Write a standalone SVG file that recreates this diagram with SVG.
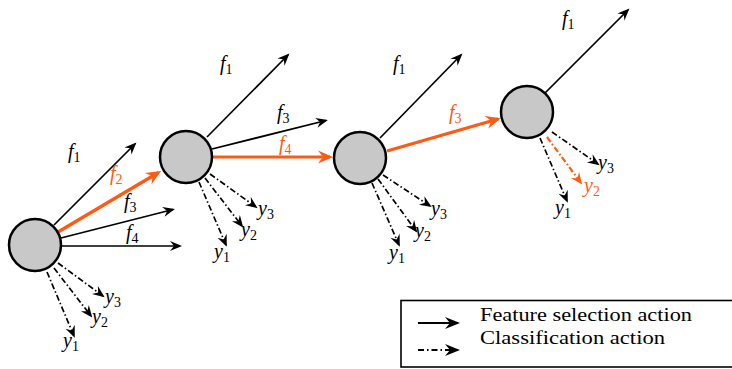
<svg xmlns="http://www.w3.org/2000/svg" width="732" height="369" viewBox="0 0 732 369">
<style>
.bg{fill:#ffffff}
.node{fill:#c8c8c8;stroke:#000;stroke-width:2.5}
.fs{stroke:#000;stroke-width:1.7;fill:none;marker-end:url(#ah)}
.cl{stroke:#000;stroke-width:1.7;fill:none;stroke-dasharray:6 2.5 1.5 2.5;marker-end:url(#ah)}
.fso{stroke:#ff5a14;stroke-width:3.2;fill:none;marker-end:url(#aho)}
.clo{stroke:#ff5a14;stroke-width:2.2;fill:none;stroke-dasharray:6 2.5 1.5 2.5;marker-end:url(#ahs)}
.lb{font-family:"Liberation Serif","DejaVu Serif",serif;font-style:italic;font-size:20px;fill:#000}
.lbo{font-family:"Liberation Serif","DejaVu Serif",serif;font-style:italic;font-size:20px;fill:#ff5a14}
.sub{font-style:normal;font-size:14px}
.lg{font-family:"Liberation Serif","DejaVu Serif",serif;font-size:18px;fill:#000}
</style>
<defs>
<marker id="ah" viewBox="-13 -6 14 12" refX="-2" refY="0" markerWidth="14" markerHeight="12" orient="auto" markerUnits="userSpaceOnUse"><path d="M0,0 L-12,-5 L-8,0 L-12,5Z" fill="#000"/></marker>
<marker id="ahl" viewBox="-16 -7 17 14" refX="-2" refY="0" markerWidth="17" markerHeight="14" orient="auto" markerUnits="userSpaceOnUse"><path d="M0,0 L-15,-6 L-10,0 L-15,6Z" fill="#000"/></marker>
<marker id="aho" viewBox="-17 -7 18 14" refX="-3" refY="0" markerWidth="18" markerHeight="14" orient="auto" markerUnits="userSpaceOnUse"><path d="M0,0 L-15,-6.5 L-10,0 L-15,6.5Z" fill="#ff5a14"/></marker>
<marker id="ahs" viewBox="-14 -6 15 12" refX="-2" refY="0" markerWidth="15" markerHeight="12" orient="auto" markerUnits="userSpaceOnUse"><path d="M0,0 L-12,-5 L-8,0 L-12,5Z" fill="#ff5a14"/></marker>
</defs>
<rect class="bg" x="0" y="0" width="732" height="369"/>
<g id="connectors">
<!-- node 1 -->
<line class="fs" x1="54" y1="225" x2="135" y2="144"/>
<line class="fso" x1="58" y1="232" x2="158.5" y2="172.5"/>
<line class="fs" x1="61" y1="238" x2="173" y2="209.5"/>
<line class="fs" x1="61" y1="246" x2="180" y2="246"/>
<line class="cl" x1="58" y1="263" x2="103" y2="296"/>
<line class="cl" x1="54" y1="268" x2="91" y2="316"/>
<line class="cl" x1="47" y1="272" x2="74" y2="336"/>
<!-- node 2 -->
<line class="fs" x1="207" y1="137" x2="288" y2="55"/>
<line class="fs" x1="212" y1="149" x2="326" y2="120.5"/>
<line class="fso" x1="213" y1="157" x2="330" y2="157"/>
<line class="cl" x1="210" y1="174" x2="256" y2="207"/>
<line class="cl" x1="205" y1="178" x2="242" y2="226"/>
<line class="cl" x1="199" y1="182" x2="226" y2="245"/>
<!-- node 3 -->
<line class="fs" x1="380" y1="138" x2="461" y2="55"/>
<line class="fso" x1="387" y1="151" x2="498" y2="119"/>
<line class="cl" x1="383" y1="175" x2="430" y2="206"/>
<line class="cl" x1="378" y1="179" x2="416" y2="231"/>
<line class="cl" x1="372" y1="183" x2="399" y2="245"/>
<!-- node 4 -->
<line class="fs" x1="545" y1="93" x2="628" y2="10"/>
<line class="cl" x1="552" y1="132" x2="598" y2="164"/>
<line class="clo" x1="547" y1="137" x2="581" y2="183"/>
<line class="cl" x1="540" y1="138" x2="567" y2="201"/>
</g>
<g id="node1"><circle class="node" cx="35" cy="245" r="26"/></g>
<g id="node2"><circle class="node" cx="186" cy="157" r="26"/></g>
<g id="node3"><circle class="node" cx="360" cy="158" r="26"/></g>
<g id="node4"><circle class="node" cx="527" cy="112" r="26"/></g>
<g id="labels">
<text class="lb" x="68" y="158">f<tspan class="sub" dy="4">1</tspan></text>
<text class="lbo" x="110" y="180">f<tspan class="sub" dy="4">2</tspan></text>
<text class="lb" x="124" y="208">f<tspan class="sub" dy="4">3</tspan></text>
<text class="lb" x="126" y="239">f<tspan class="sub" dy="4">4</tspan></text>
<text class="lb" x="105" y="303">y<tspan class="sub" dy="4">3</tspan></text>
<text class="lb" x="92" y="323">y<tspan class="sub" dy="4">2</tspan></text>
<text class="lb" x="63" y="347">y<tspan class="sub" dy="4">1</tspan></text>

<text class="lb" x="220" y="70">f<tspan class="sub" dy="4">1</tspan></text>
<text class="lb" x="277" y="119">f<tspan class="sub" dy="4">3</tspan></text>
<text class="lbo" x="279" y="150">f<tspan class="sub" dy="4">4</tspan></text>
<text class="lb" x="258" y="215">y<tspan class="sub" dy="4">3</tspan></text>
<text class="lb" x="241" y="236">y<tspan class="sub" dy="4">2</tspan></text>
<text class="lb" x="214" y="258">y<tspan class="sub" dy="4">1</tspan></text>

<text class="lb" x="393" y="70">f<tspan class="sub" dy="4">1</tspan></text>
<text class="lbo" x="449" y="119">f<tspan class="sub" dy="4">3</tspan></text>
<text class="lb" x="431" y="215">y<tspan class="sub" dy="4">3</tspan></text>
<text class="lb" x="415" y="237">y<tspan class="sub" dy="4">2</tspan></text>
<text class="lb" x="389" y="259">y<tspan class="sub" dy="4">1</tspan></text>

<text class="lb" x="562" y="25">f<tspan class="sub" dy="4">1</tspan></text>
<text class="lb" x="598" y="169">y<tspan class="sub" dy="4">3</tspan></text>
<text class="lbo" x="584" y="192">y<tspan class="sub" dy="4">2</tspan></text>
<text class="lb" x="555" y="214">y<tspan class="sub" dy="4">1</tspan></text>
</g>
<g id="legend">
<rect x="401" y="300.5" width="340" height="66.5" fill="none" stroke="#000" stroke-width="1.6"/>
<line x1="418" y1="323" x2="458" y2="323" stroke="#000" stroke-width="2.2" marker-end="url(#ahl)"/>
<line x1="418" y1="350" x2="458" y2="350" stroke="#000" stroke-width="2.2" stroke-dasharray="6 3 1.5 3" marker-end="url(#ahl)"/>
<text class="lg" x="480" y="321" textLength="212" lengthAdjust="spacingAndGlyphs">Feature selection action</text>
<text class="lg" x="480" y="344" textLength="185" lengthAdjust="spacingAndGlyphs">Classification action</text>
</g>
</svg>
